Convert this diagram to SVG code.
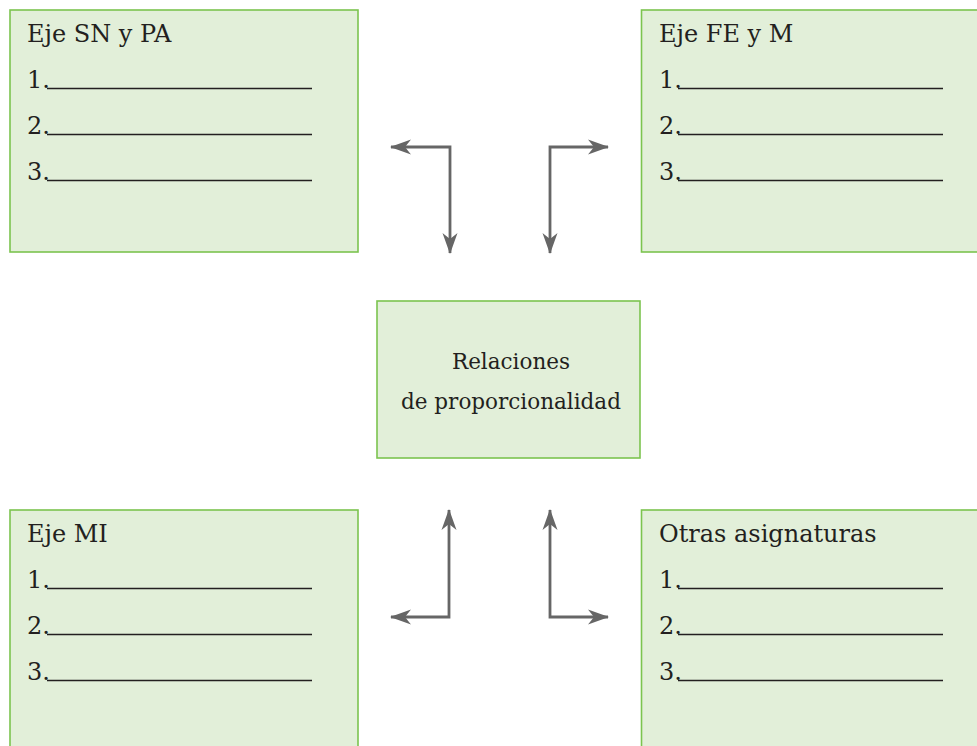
<svg xmlns="http://www.w3.org/2000/svg" width="977" height="746" viewBox="0 0 977 746">
<style>
.box{fill:#e2efd9;stroke:#7cc44f;stroke-width:1.6}
.t{font-family:"DejaVu Serif","Liberation Serif",serif;font-size:24px;fill:#231f20}
.c{font-family:"DejaVu Serif","Liberation Serif",serif;font-size:21.5px;fill:#231f20;text-anchor:middle}
.ul{stroke:#231f20;stroke-width:1.5}
.con{fill:none;stroke:#666666;stroke-width:2.8;marker-start:url(#ah);marker-end:url(#ah)}
</style>
<defs>
<marker id="ah" markerUnits="userSpaceOnUse" markerWidth="22" markerHeight="16" refX="20" refY="8" orient="auto-start-reverse" viewBox="0 0 22 16">
<path d="M21,8 L0,0.5 L6,8 L0,15.5 Z" fill="#666666"/>
</marker>
</defs>
<rect width="977" height="746" fill="#ffffff"/>
<g id="box-sn-pa">
<rect class="box" x="10" y="10" width="348" height="242"/>
<text class="t" x="27" y="42">Eje SN y PA</text>
<text class="t" x="27" y="88">1.</text><line class="ul" x1="47" y1="88.5" x2="312" y2="88.5"/>
<text class="t" x="27" y="134">2.</text><line class="ul" x1="47" y1="134.5" x2="312" y2="134.5"/>
<text class="t" x="27" y="180">3.</text><line class="ul" x1="47" y1="180.5" x2="312" y2="180.5"/>
</g>
<g id="box-fe-m">
<rect class="box" x="641.5" y="10" width="345" height="242"/>
<text class="t" x="659" y="42">Eje FE y M</text>
<text class="t" x="659" y="88">1.</text><line class="ul" x1="678" y1="88.5" x2="943" y2="88.5"/>
<text class="t" x="659" y="134">2.</text><line class="ul" x1="678" y1="134.5" x2="943" y2="134.5"/>
<text class="t" x="659" y="180">3.</text><line class="ul" x1="678" y1="180.5" x2="943" y2="180.5"/>
</g>
<g id="box-center">
<rect class="box" x="377" y="301" width="263" height="157"/>
<text class="c" x="511" y="369">Relaciones</text>
<text class="c" x="511" y="409">de proporcionalidad</text>
</g>
<g id="box-mi">
<rect class="box" x="10" y="510" width="348" height="246"/>
<text class="t" x="27" y="542">Eje MI</text>
<text class="t" x="27" y="588">1.</text><line class="ul" x1="47" y1="588.5" x2="312" y2="588.5"/>
<text class="t" x="27" y="634">2.</text><line class="ul" x1="47" y1="634.5" x2="312" y2="634.5"/>
<text class="t" x="27" y="680">3.</text><line class="ul" x1="47" y1="680.5" x2="312" y2="680.5"/>
</g>
<g id="box-otras">
<rect class="box" x="641.5" y="510" width="345" height="246"/>
<text class="t" x="659" y="542">Otras asignaturas</text>
<text class="t" x="659" y="588">1.</text><line class="ul" x1="678" y1="588.5" x2="943" y2="588.5"/>
<text class="t" x="659" y="634">2.</text><line class="ul" x1="678" y1="634.5" x2="943" y2="634.5"/>
<text class="t" x="659" y="680">3.</text><line class="ul" x1="678" y1="680.5" x2="943" y2="680.5"/>
</g>
<g id="connectors">
<path class="con" d="M391,147 H450 V253"/>
<path class="con" d="M550,253 V147 H608"/>
<path class="con" d="M449,510 V617 H391"/>
<path class="con" d="M550,510 V617 H608"/>
</g>
</svg>
